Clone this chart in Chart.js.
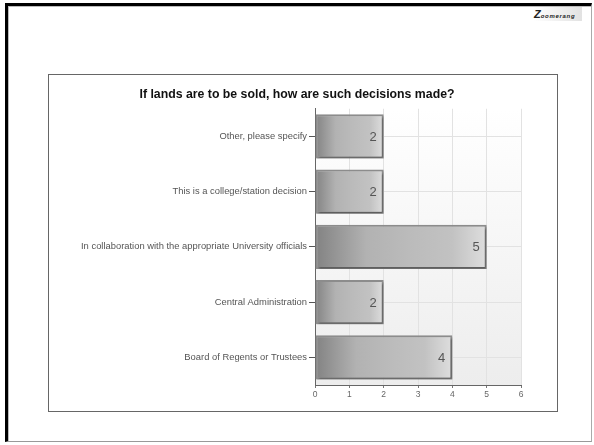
<!DOCTYPE html>
<html><head><meta charset="utf-8">
<script src="https://cdn.jsdelivr.net/npm/chart.js@4.4.1/dist/chart.umd.min.js"></script>
<style>
html,body{margin:0;padding:0;background:#fff;width:594px;height:445px;overflow:hidden;font-family:"Liberation Sans",Arial,sans-serif;}
#frame{position:absolute;left:5px;top:3px;width:583px;height:435px;border-top:3px solid #000;border-left:3px solid #000;border-right:1px solid #aaa;border-bottom:1px solid #999;box-shadow:inset 1px 1px 0 #bbb;}
#box{position:absolute;left:48px;top:74px;width:508px;height:336px;border:1px solid #666;}
#logo{position:absolute;left:533px;top:7px;font:italic bold 6px "Liberation Sans",Arial,sans-serif;color:#222;letter-spacing:0.7px;background:linear-gradient(90deg,#fff,#e2e2e2);padding:1px 7px 1px 1px;}
#logo b{font-size:11px;letter-spacing:0;}
canvas{display:block;}
</style></head>
<body>
<div id="frame"></div>
<div id="logo"><b>Z</b>oomerang</div>
<div id="box"><canvas id="c" width="508" height="336"></canvas></div>
<script>
const categories = [
  "Other, please specify",
  "This is a college/station decision",
  "In collaboration with the appropriate University officials",
  "Central Administration",
  "Board of Regents or Trustees"
];
const values = [2, 2, 5, 2, 4];
const xTicks = [0, 1, 2, 3, 4, 5, 6];
const chartTitle = "If lands are to be sold, how are such decisions made?";

const plotBg = {
  id: 'plotBg',
  beforeDraw(chart) {
    const a = chart.chartArea; if (!a) return;
    const c = chart.ctx;
    const g = c.createLinearGradient(0, a.top, 0, a.bottom);
    g.addColorStop(0, '#ffffff');
    g.addColorStop(1, '#ededed');
    c.save(); c.fillStyle = g; c.fillRect(a.left, a.top, a.right - a.left, a.bottom - a.top); c.restore();
  }
};
const barShadow = {
  id: 'barShadow',
  beforeDatasetsDraw(chart) {
    const c = chart.ctx; c.save();
    c.shadowColor = 'rgba(0,0,0,0.35)'; c.shadowOffsetX = 1.5; c.shadowOffsetY = 2; c.shadowBlur = 2;
  },
  afterDatasetsDraw(chart) {
    const c = chart.ctx; c.restore();
    const meta = chart.getDatasetMeta(0);
    c.save();
    c.font = '13px "Liberation Sans", Arial, sans-serif';
    c.fillStyle = '#555'; c.textAlign = 'right'; c.textBaseline = 'middle';
    meta.data.forEach((el, i) => { c.fillText(String(values[i]), el.x - 7, el.y + 1); });
    c.restore();
  }
};

new Chart(document.getElementById('c'), {
  type: 'bar',
  data: {
    labels: categories,
    datasets: [{
      data: values,
      barPercentage: 0.8,
      categoryPercentage: 1.0,
      borderColor: '#8c8c8c',
      borderWidth: 2,
      borderSkipped: false,
      backgroundColor: (ctx) => {
        const chart = ctx.chart;
        const xs = chart.scales && chart.scales.x;
        if (!chart.chartArea || !xs) return '#b0b0b0';
        const x0 = xs.getPixelForValue(0), x1 = xs.getPixelForValue(ctx.raw);
        if (!isFinite(x0) || !isFinite(x1) || x1 <= x0) return '#b0b0b0';
        const g = chart.ctx.createLinearGradient(x0, 0, x1, 0);
        g.addColorStop(0, '#828282');
        g.addColorStop(0.3, '#b2b2b2');
        g.addColorStop(0.55, '#bbbbbb');
        g.addColorStop(0.8, '#c2c2c2');
        g.addColorStop(1, '#dedede');
        return g;
      }
    }]
  },
  options: {
    indexAxis: 'y',
    responsive: false,
    animation: false,
    events: [],
    layout: { padding: { left: 24, right: 36, top: 0, bottom: 0 } },
    plugins: {
      legend: { display: false },
      tooltip: { enabled: false },
      title: {
        display: true, text: chartTitle, color: '#111',
        font: { family: '"Liberation Sans", Arial, sans-serif', size: 12.3, weight: 'bold' },
        padding: { top: 12, bottom: 7 }
      }
    },
    scales: {
      x: {
        min: 0, max: 6,
        afterBuildTicks(scale) { scale.ticks = xTicks.map(v => ({ value: v })); },
        afterFit(scale) { scale.height = 26; },
        ticks: { stepSize: 1, color: '#666', padding: 2, font: { family: '"Liberation Sans", Arial, sans-serif', size: 8.5 } },
        grid: { color: '#e2e2e2', tickColor: '#777', tickLength: 3 },
        border: { color: '#666', width: 1 }
      },
      y: {
        afterFit(scale) { scale.width = 242; },
        ticks: { color: '#555', padding: 2, font: { family: '"Liberation Sans", Arial, sans-serif', size: 9.4 } },
        grid: { color: '#e2e2e2', offset: false, tickColor: '#555', tickLength: 6 },
        border: { color: '#666', width: 1 }
      }
    }
  },
  plugins: [plotBg, barShadow]
});
</script>
</body></html>
